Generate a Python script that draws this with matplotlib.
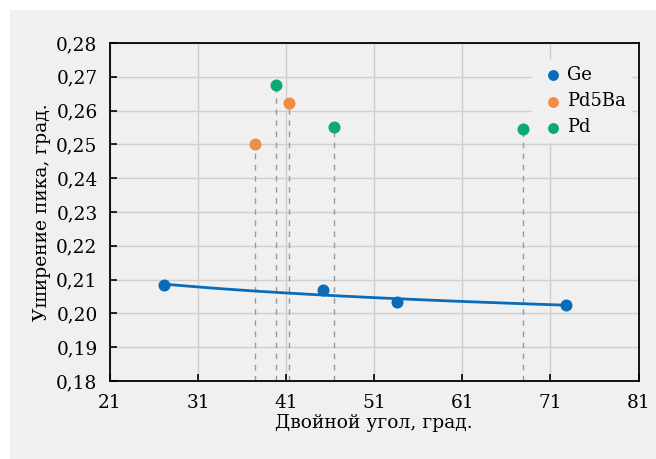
import numpy as np
import matplotlib.pyplot as plt
from matplotlib.ticker import FuncFormatter
from matplotlib.patches import Rectangle

# Data
ge_x = [27.1, 45.2, 53.6, 72.8]
ge_y = [0.2083, 0.2069, 0.2033, 0.2024]
pd5ba_x = [37.5, 41.3]
pd5ba_y = [0.2500, 0.2622]
pd_x = [39.8, 46.4, 67.9]
pd_y = [0.2676, 0.2552, 0.2546]

x_ticks = [21, 31, 41, 51, 61, 71, 81]
y_ticks = [0.18, 0.19, 0.20, 0.21, 0.22, 0.23, 0.24, 0.25, 0.26, 0.27, 0.28]

c_ge = '#0a6cb8'
c_pd5ba = '#f08c46'
c_pd = '#0ba878'
bg = '#f0f0f0'

plt.rcParams['font.family'] = ['DejaVu Serif']
plt.rcParams['font.size'] = 13

fig = plt.figure(figsize=(6.56, 4.59), dpi=100)
fig.patch.set_facecolor('white')
fig.patches.append(Rectangle((10 / 656, 0), 1, 1 - 10 / 459, transform=fig.transFigure,
                             facecolor=bg, edgecolor='none', zorder=-1))

ax = fig.add_axes([110 / 656, 1 - 381 / 459, (638.5 - 110) / 656, (381 - 43) / 459])
ax.set_facecolor(bg)

# dashed drop lines to the x axis
for xs, ys in [(pd5ba_x, pd5ba_y), (pd_x, pd_y)]:
    for x, y in zip(xs, ys):
        ax.plot([x, x], [0.18, y], color='#999999', lw=1, ls=(0, (4, 4)), zorder=2)

# power trend line for Ge
b, a = np.polyfit(np.log(ge_x), np.log(ge_y), 1)
xf = np.linspace(min(ge_x), max(ge_x), 100)
ax.plot(xf, np.exp(a) * xf ** b, color=c_ge, lw=2, zorder=3)

ax.scatter(ge_x, ge_y, s=75, color=c_ge, zorder=4, label='Ge', linewidths=0)
ax.scatter(pd5ba_x, pd5ba_y, s=75, color=c_pd5ba, zorder=4, label='Pd5Ba', linewidths=0)
ax.scatter(pd_x, pd_y, s=75, color=c_pd, zorder=4, label='Pd', linewidths=0)

ax.set_xlim(21, 81)
ax.set_ylim(0.18, 0.28)
ax.set_xticks(x_ticks)
ax.set_yticks(y_ticks)
ax.yaxis.set_major_formatter(FuncFormatter(lambda v, p: f'{v:.2f}'.replace('.', ',')))
ax.grid(True, color='#cfcfcf', lw=1)
ax.set_axisbelow(True)
ax.tick_params(direction='in', length=5, width=1.2, colors='black', labelsize=13.3, pad=9)
for s in ax.spines.values():
    s.set_color('black')
    s.set_linewidth(1.3)

ax.set_xlabel('Двойной угол, град.', fontsize=13.5, labelpad=2)
ax.set_ylabel('Уширение пика, град.', fontsize=13.5, labelpad=4)

leg = ax.legend(loc='upper right', bbox_to_anchor=(0.988, 0.95), frameon=True, fontsize=13,
                handletextpad=0.0, markerscale=0.9, borderpad=0.35, labelspacing=0.45,
                borderaxespad=0, fancybox=False, handlelength=1.6)
leg.get_frame().set_facecolor(bg)
leg.get_frame().set_edgecolor('none')
leg.get_frame().set_alpha(1)

fig.savefig('out.png', dpi=100)
